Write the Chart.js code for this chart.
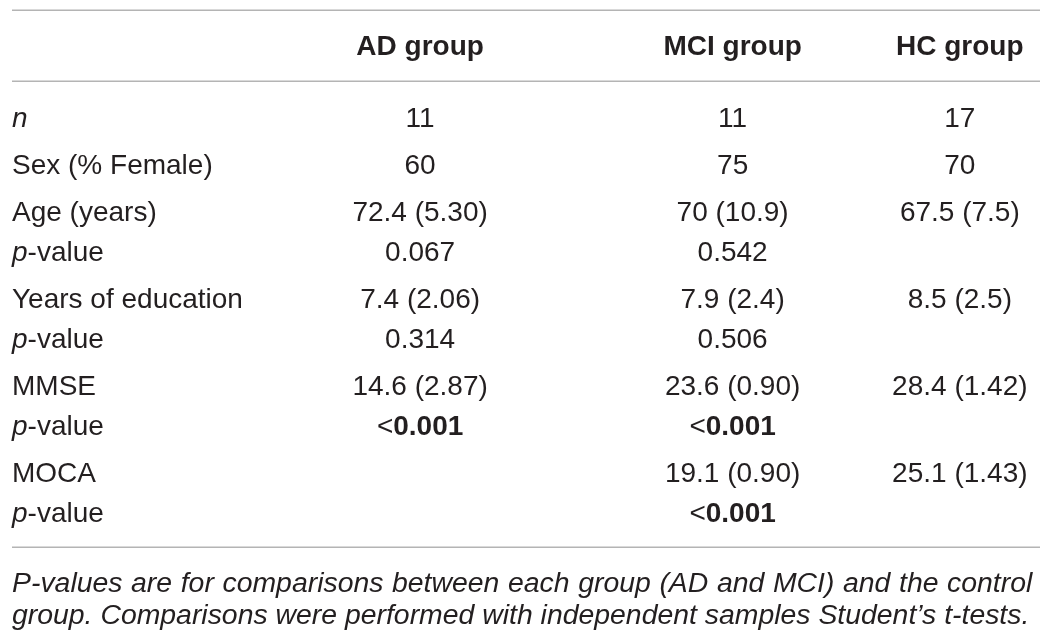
<!DOCTYPE html>
<html>
<head>
<meta charset="utf-8">
<script src="https://cdn.jsdelivr.net/npm/chart.js@4.4.1/dist/chart.umd.min.js"></script>
<style>
  html, body { margin: 0; padding: 0; background: #fff; }
  #table { display: block; }
</style>
</head>
<body>
<canvas id="table" width="1052" height="639"></canvas>
<script>
// table content
const groups = ['AD group', 'MCI group', 'HC group'];
const rowLabels = ['n', 'Sex (% Female)', 'Age (years)', 'p-value', 'Years of education', 'p-value', 'MMSE', 'p-value', 'MOCA', 'p-value'];
const rowBlock = [0, 1, 2, 2, 3, 3, 4, 4, 5, 5];
const adValues = ['11', '60', '72.4 (5.30)', '0.067', '7.4 (2.06)', '0.314', '14.6 (2.87)', '<0.001', '', ''];
const mciValues = ['11', '75', '70 (10.9)', '0.542', '7.9 (2.4)', '0.506', '23.6 (0.90)', '<0.001', '19.1 (0.90)', '<0.001'];
const hcValues = ['17', '70', '67.5 (7.5)', '', '8.5 (2.5)', '', '28.4 (1.42)', '', '25.1 (1.43)', ''];
const footnote = [
  'P-values are for comparisons between each group (AD and MCI) and the control',
  'group. Comparisons were performed with independent samples Student\u2019s t-tests.'
];

// layout (scale units: x 0..1 across the rules, y in text lines)
const FONT = '"Liberation Sans", Arial, Helvetica, sans-serif';
const TEXT_COLOR = '#231f20';
const RULE_COLOR = '#b4b4b4';
const colAnchor = [0, 0.397, 0.701, 0.922];
const BLOCK_GAP = 0.175;
const HEADER_Y = -1.8;
const RULES_Y = [-2.925, -1.15, 10.5];
const FOOT_Y = [11.625, 12.425];

function rowPos(i) { return i + rowBlock[i] * BLOCK_GAP; }

function segmentsFor(text, isLabel) {
  if (isLabel && text === 'n') return [{ t: 'n', italic: true }];
  if (isLabel && text.startsWith('p-')) return [{ t: 'p', italic: true }, { t: text.slice(1) }];
  if (!isLabel && text.startsWith('<')) return [{ t: '<' }, { t: text.slice(1), bold: true }];
  return [{ t: text }];
}

function fontFor(seg, size) {
  return (seg.italic ? 'italic ' : '') + (seg.bold ? 'bold ' : '') + size + 'px ' + FONT;
}

function drawRich(ctx, segs, x, y, align, size) {
  let total = 0;
  segs.forEach(s => { ctx.font = fontFor(s, size); s.w = ctx.measureText(s.t).width; total += s.w; });
  let cx = align === 'center' ? x - total / 2 : x;
  segs.forEach(s => {
    ctx.font = fontFor(s, size);
    ctx.fillText(s.t, cx, y);
    cx += s.w;
  });
}

function drawJustified(ctx, line, x0, x1, y, justify) {
  const words = line.split(' ');
  const widths = words.map(w => ctx.measureText(w).width);
  const sum = widths.reduce((a, b) => a + b, 0);
  const space = justify ? (x1 - x0 - sum) / (words.length - 1) : ctx.measureText(' ').width;
  let cx = x0;
  words.forEach((w, k) => { ctx.fillText(w, cx, y); cx += widths[k] + space; });
}

const columns = [rowLabels, adValues, mciValues, hcValues];
const datasets = columns.map((vals, j) => ({
  label: j === 0 ? 'label' : groups[j - 1],
  data: vals.map((v, i) => ({ x: colAnchor[j], y: rowPos(i), text: v })).filter(p => p.text !== ''),
  pointRadius: 0,
  showLine: false
}));

const tablePlugin = {
  id: 'tableText',
  afterDatasetsDraw(chart) {
    const ctx = chart.ctx;
    const xs = chart.scales.x, ys = chart.scales.y;
    ctx.save();
    // horizontal rules
    ctx.strokeStyle = RULE_COLOR;
    ctx.lineWidth = 1.5;
    RULES_Y.forEach(v => {
      const y = Math.round(ys.getPixelForValue(v)) + 0.25;
      ctx.beginPath();
      ctx.moveTo(xs.getPixelForValue(0), y);
      ctx.lineTo(xs.getPixelForValue(1), y);
      ctx.stroke();
    });
    ctx.fillStyle = TEXT_COLOR;
    ctx.textBaseline = 'alphabetic';
    ctx.textAlign = 'left';
    // header
    groups.forEach((g, j) => {
      drawRich(ctx, [{ t: g, bold: true }], xs.getPixelForValue(colAnchor[j + 1]), ys.getPixelForValue(HEADER_Y), 'center', 28);
    });
    // body cells
    chart.data.datasets.forEach((ds, j) => {
      const meta = chart.getDatasetMeta(j);
      meta.data.forEach((pt, i) => {
        const txt = ds.data[i].text;
        drawRich(ctx, segmentsFor(txt, j === 0), pt.x, pt.y, j === 0 ? 'left' : 'center', 28);
      });
    });
    // footnote
    ctx.font = 'italic 28.4px ' + FONT;
    footnote.forEach((line, k) => {
      drawJustified(ctx, line, xs.getPixelForValue(0), xs.getPixelForValue(0.9925), ys.getPixelForValue(FOOT_Y[k]), k === 0);
    });
    ctx.restore();
  }
};

const LINE_PX = 40;
const H = 639;
const yMin = -127 / LINE_PX;

new Chart(document.getElementById('table'), {
  type: 'scatter',
  data: { datasets: datasets },
  options: {
    responsive: false,
    animation: false,
    events: [],
    layout: { padding: { left: 12, right: 12, top: 0, bottom: 0 } },
    plugins: { legend: { display: false }, tooltip: { enabled: false } },
    scales: {
      x: { type: 'linear', display: false, min: 0, max: 1 },
      y: { type: 'linear', display: false, reverse: true, min: yMin, max: yMin + H / LINE_PX }
    }
  },
  plugins: [tablePlugin]
});
</script>
</body>
</html>
